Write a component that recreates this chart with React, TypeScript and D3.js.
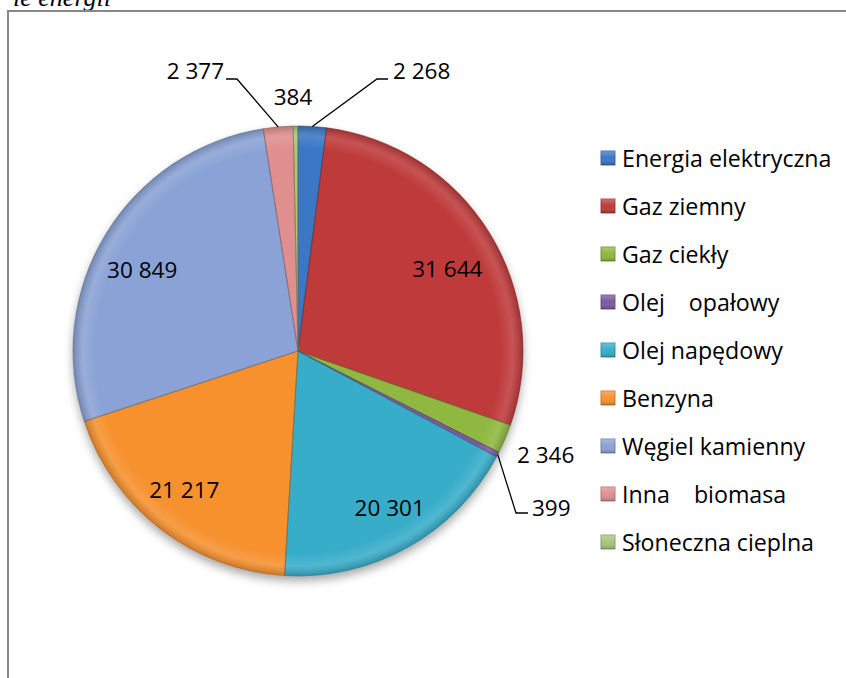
import React from "react";
import * as d3 from "d3";

const categories = [
  "Energia elektryczna",
  "Gaz ziemny",
  "Gaz ciekły",
  "Olej    opałowy",
  "Olej napędowy",
  "Benzyna",
  "Węgiel kamienny",
  "Inna    biomasa",
  "Słoneczna cieplna",
];
const values = [2268, 31644, 2346, 399, 20301, 21217, 30849, 2377, 384];
const colors = ["#3a77c4", "#bf3a3b", "#8fb83f", "#7b58a2", "#38adc9", "#f6912f", "#8aa2d5", "#df8f8e", "#a9c57e"];
const titleText = "ie energii";

// label layout (relative to pie centre), kept apart from data
const labelLayout: any[] = [
  { type: "out", x: 95, y: -272, anchor: "start", elbow: [79, -272], end: [90, -272] },
  { type: "in", dx: 2, dy: 9 },
  { type: "out", x: 219, y: 112, anchor: "start" },
  { type: "out", x: 234, y: 165, anchor: "start", elbow: [218, 162], end: [230, 162] },
  { type: "in", dx: 7, dy: 5 },
  { type: "in", dx: -8, dy: 1 },
  { type: "in", dx: -8, dy: 9 },
  { type: "out", x: -74, y: -272, anchor: "end", elbow: [-61, -272], end: [-72, -272] },
  { type: "out", x: -5, y: -246, anchor: "middle" },
];

const W = 846;
const H = 678;
const cx = 298;
const cy = 351;
const R = 225;
const FONT = "'Open Sans', Calibri, sans-serif";
const FS = 22.5;
const LFS = 23.2;

export default function App() {
  const pie = d3.pie<number>().sort(null).value((d) => d)(values);
  const arc = d3.arc<any>().innerRadius(0).outerRadius(R);
  const fmt = (v: number) => d3.format(",")(v).replace(/,/g, " ");
  const legendY = d3.scalePoint<number>().domain(d3.range(categories.length)).range([158, 542]);

  return (
    <svg width={W} height={H} style={{ position: "absolute", left: 0, top: 0, background: "#fff" }}>
      <defs>
        <filter id="shadow" x="-20%" y="-20%" width="140%" height="140%">
          <feDropShadow dx="0" dy="5" stdDeviation="5" floodColor="#000" floodOpacity="0.35" />
        </filter>
        <radialGradient id="bevel" cx="0" cy="0" r={R} gradientUnits="userSpaceOnUse">
          <stop offset="0" stopColor="#fff" stopOpacity="0" />
          <stop offset="0.9" stopColor="#fff" stopOpacity="0" />
          <stop offset="0.955" stopColor="#fff" stopOpacity="0.12" />
          <stop offset="1" stopColor="#000" stopOpacity="0.18" />
        </radialGradient>
        <linearGradient id="lg" x1="0" y1="0" x2="0" y2="1">
          <stop offset="0" stopColor="#fff" stopOpacity="0.25" />
          <stop offset="0.5" stopColor="#fff" stopOpacity="0" />
          <stop offset="1" stopColor="#000" stopOpacity="0.2" />
        </linearGradient>
      </defs>
      <text
        x={111}
        y={6}
        textAnchor="end"
        fontFamily="'Liberation Serif', 'Times New Roman', serif"
        fontStyle="italic"
        fontSize={26}
        fill="#000"
      >
        {titleText}
      </text>
      <rect x={8} y={11} width={W + 20} height={H + 20} fill="none" stroke="#878787" strokeWidth={2} />
      <g transform={`translate(${cx},${cy})`}>
        <g filter="url(#shadow)">
          {pie.map((p, i) => (
            <path key={i} d={arc(p) as string} fill={colors[i]} />
          ))}
        </g>
        {pie.map((p, i) => (
          <path
            key={"s" + i}
            d={arc(p) as string}
            fill="url(#bevel)"
            stroke={d3.color(colors[i])!.darker(1.2).formatHex()}
            strokeWidth={0.8}
            strokeOpacity={0.7}
          />
        ))}
        {pie.map((p, i) => {
          const L = labelLayout[i];
          const mid = (p.startAngle + p.endAngle) / 2;
          if (L.type === "in") {
            const r = R * 0.77;
            return (
              <text
                key={"l" + i}
                x={Math.sin(mid) * r + L.dx}
                y={-Math.cos(mid) * r + L.dy}
                textAnchor="middle"
                dominantBaseline="central"
                fontFamily={FONT}
                fontSize={FS}
                fill="#000"
              >
                {fmt(values[i])}
              </text>
            );
          }
          const ex = Math.sin(mid) * R;
          const ey = -Math.cos(mid) * R;
          return (
            <g key={"l" + i}>
              {L.elbow && (
                <polyline
                  points={`${ex},${ey} ${L.elbow[0]},${L.elbow[1]} ${L.end[0]},${L.end[1]}`}
                  fill="none"
                  stroke="#000"
                  strokeWidth={1.3}
                />
              )}
              <text
                x={L.x}
                y={L.y}
                textAnchor={L.anchor}
                fontFamily={FONT}
                fontSize={FS}
                fill="#000"
              >
                {fmt(values[i])}
              </text>
            </g>
          );
        })}
      </g>
      <g>
        {categories.map((c, i) => {
          const y = legendY(i)!;
          return (
            <g key={"lg" + i}>
              <rect x={601} y={y - 7} width={14} height={14} fill={colors[i]} stroke={d3.color(colors[i])!.darker(1).formatHex()} strokeWidth={0.8} />
              <rect x={601} y={y - 7} width={14} height={14} fill="url(#lg)" />
              <text
                x={622}
                y={y}
                dominantBaseline="central"
                fontFamily={FONT}
                fontSize={LFS}
                fill="#000"
                style={{ whiteSpace: "pre" }}
              >
                {c}
              </text>
            </g>
          );
        })}
      </g>
    </svg>
  );
}
